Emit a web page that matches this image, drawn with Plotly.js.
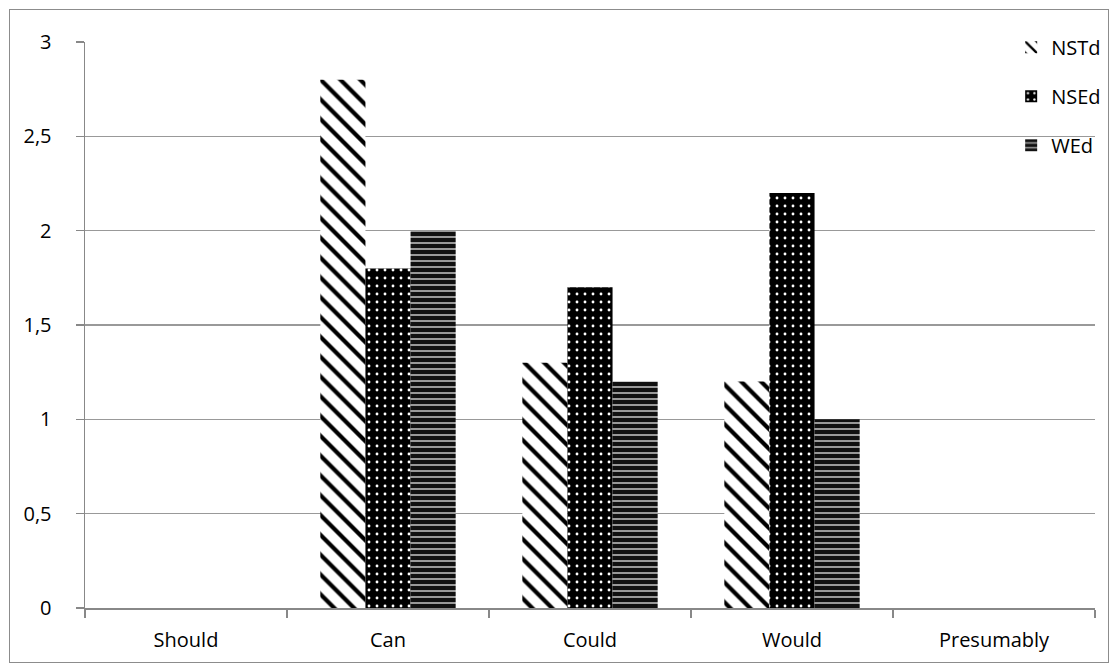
<!DOCTYPE html>
<html><head><meta charset="utf-8">
<script src="https://cdn.plot.ly/plotly-3.0.1.min.js"></script>
<style>body{margin:0;background:#fff}#wrap{position:relative;width:1118px;height:670px}#frame{position:absolute;left:9px;top:9px;width:1098px;height:652px;border:1px solid #8c8c8c;pointer-events:none}</style>
</head><body><div id="wrap"><div id="chart" style="width:1118px;height:670px"></div><div id="frame"></div></div>
<script>
const categories = ["Should", "Can", "Could", "Would", "Presumably"];
const nstd = [0, 2.8, 1.3, 1.2, 0];
const nsed = [0, 1.8, 1.7, 2.2, 0];
const wed = [0, 2.0, 1.2, 1.0, 0];
const seriesNames = ["NSTd", "NSEd", "WEd"];
const yTicks = [0, 0.5, 1, 1.5, 2, 2.5, 3];

const traces = [
  {type:'bar', name:seriesNames[0], x:categories, y:nstd, legendgroup:'a',
   marker:{color:'#ffffff', line:{width:0}, pattern:{shape:'\\', fgcolor:'#000000', bgcolor:'#ffffff', size:14, solidity:0.3}}},
  {type:'bar', name:seriesNames[1], x:categories, y:nsed, legendgroup:'b',
   marker:{color:'#000000', line:{width:0}, pattern:{shape:'.', fgcolor:'#ffffff', bgcolor:'#000000', size:8, solidity:0.1}}},
  {type:'bar', name:seriesNames[2], x:categories, y:wed, legendgroup:'c',
   marker:{color:'#000000', line:{width:0}, pattern:{shape:'-', fgcolor:'#a8a8a8', bgcolor:'#111111', size:6, solidity:0.3}}}
];

const layout = {
  width:1118, height:670,
  margin:{l:85, r:18, t:42, b:62},
  paper_bgcolor:'#ffffff', plot_bgcolor:'#ffffff',
  font:{family:'Open Sans, Noto Sans, sans-serif', size:20, color:'#000'},
  separators:', ',
  barmode:'group', bargap:0.33, bargroupgap:0,
  showlegend:true,
  legend:{x:0.917, xanchor:'left', y:1.025, yanchor:'top', tracegroupgap:20, font:{size:20}, bgcolor:'rgba(0,0,0,0)', itemwidth:30},
  xaxis:{type:'category', showgrid:false, showline:true, linecolor:'#888', linewidth:1.5,
         ticks:'outside', tickson:'boundaries', ticklen:8, tickcolor:'#888', tickwidth:1.5, zeroline:false,
         tickfont:{size:20}, ticklabelstandoff:13},
  yaxis:{range:[0,3], tickvals:yTicks, showgrid:true, gridcolor:'#999999', gridwidth:1.5,
         showline:true, linecolor:'#888', linewidth:1.5, ticks:'outside', ticklen:8, tickcolor:'#888', tickwidth:1.5,
         zeroline:false, tickfont:{size:20}, ticklabelstandoff:20}
};
Plotly.newPlot('chart', traces, layout, {displayModeBar:false, staticPlot:true});
</script></body></html>
